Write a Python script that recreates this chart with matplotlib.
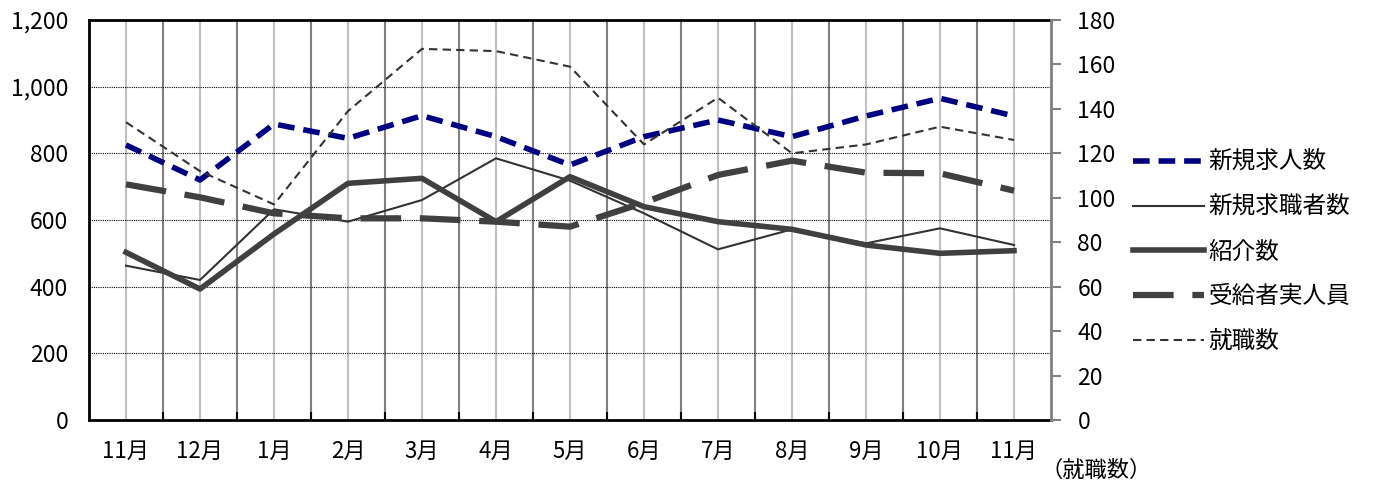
import matplotlib.pyplot as plt
import numpy as np

plt.rcParams['font.family'] = ['Noto Sans CJK JP', 'DejaVu Sans']

# データ
months = ['11月', '12月', '1月', '2月', '3月', '4月', '5月', '6月', '7月', '8月', '9月', '10月', '11月']
kyujin = [825, 720, 888, 845, 913, 850, 765, 850, 900, 850, 912, 965, 912]
kyushoku = [463, 420, 632, 595, 660, 785, 718, 620, 512, 572, 530, 575, 525]
shokai = [503, 393, 558, 710, 725, 595, 730, 640, 595, 572, 525, 500, 508]
jukyu = [707, 668, 620, 605, 605, 595, 580, 652, 735, 778, 742, 740, 688]
shushoku = [134, 112, 97, 139, 167, 166, 159, 124, 145, 120, 124, 132, 126]

x = np.arange(len(months))

fig = plt.figure(figsize=(13.77, 4.86), dpi=100)
ax = fig.add_axes([89/1377, 1 - 420/486, (1051 - 89)/1377, 400/486])
ax2 = ax.twinx()

# 縦の区切り線
for i in x:
    ax.axvline(i, color='#c0c0c0', lw=1.5, zorder=0)
for i in range(len(months) - 1):
    ax.axvline(i + 0.5, color='#808080', lw=1.5, zorder=0)
for v in [200, 400, 600, 800, 1000]:
    ax.axhline(v, color='black', lw=0.8, ls=(0, (1, 1)), zorder=0)

l1, = ax.plot(x, kyujin, color='#000080', lw=4, ls=(0, (3, 1.6)), label='新規求人数', zorder=5)
l2, = ax.plot(x, kyushoku, color='#333333', lw=1.5, label='新規求職者数', zorder=3)
l3, = ax.plot(x, shokai, color='#404040', lw=4, label='紹介数', zorder=4)
l4, = ax.plot(x, jukyu, color='#404040', lw=4.5, ls=(0, (6.5, 3)), label='受給者実人員', zorder=4)
l5, = ax2.plot(x, shushoku, color='#333333', lw=1.5, ls=(0, (4, 2.5)), label='就職数', zorder=3)

ax.set_xlim(-0.5, 12.5)
ax.set_ylim(0, 1200)
ax2.set_ylim(0, 180)
ax.set_yticks(range(0, 1201, 200))
ax.set_yticklabels([f'{v:,}' for v in range(0, 1201, 200)])
ax2.set_yticks(range(0, 181, 20))

ax.set_xticks(x)
ax.set_xticklabels(months)
ax.tick_params(axis='x', length=0, pad=14, labelsize=16)
ax.tick_params(axis='y', length=0, pad=15, labelsize=16.5)
ax2.tick_params(axis='y', length=7, width=1.5, color='#808080', pad=12, labelsize=16.5)

for s in ['left', 'top', 'bottom']:
    ax.spines[s].set_linewidth(2)
    ax2.spines[s].set_visible(False)
ax.spines['right'].set_visible(False)
ax2.spines['right'].set_color('#808080')
ax2.spines['right'].set_linewidth(2)

# 下側の小さな目盛り
for i in range(len(months) - 1):
    ax.plot([i + 0.5, i + 0.5], [0, 22], color='black', lw=1.5, zorder=6, clip_on=False)

fig.legend(handles=[l1, l2, l3, l4, l5], loc='center left', bbox_to_anchor=(1133/1377, 1 - 252/486),
           frameon=False, fontsize=17, handlelength=3.0, labelspacing=0.92, handletextpad=0.2,
           borderpad=0, borderaxespad=0)

fig.text(1040/1377, 1 - 470/486, '（就職数）', fontsize=16, va='center', ha='left')

fig.savefig('out.png', dpi=100)
